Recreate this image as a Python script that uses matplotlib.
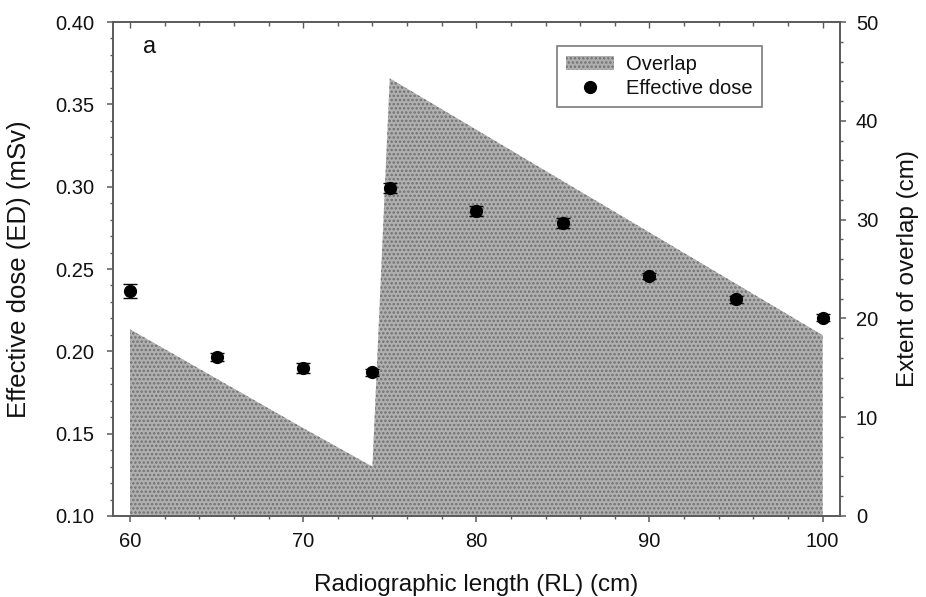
import matplotlib
matplotlib.use("Agg")
import matplotlib.pyplot as plt
from matplotlib.ticker import MultipleLocator, FormatStrFormatter
from matplotlib.patches import Patch
from matplotlib.lines import Line2D

plt.rcParams['font.family'] = ['Liberation Sans', 'DejaVu Sans']
plt.rcParams['hatch.linewidth'] = 1.2

rl = [60, 65, 70, 74, 75, 80, 85, 90, 95, 100]
ed = [0.2366, 0.1966, 0.1897, 0.1873, 0.2994, 0.2852, 0.2781, 0.2457, 0.2316, 0.2204]
ed_err = [0.004, 0.0025, 0.003, 0.002, 0.003, 0.003, 0.003, 0.002, 0.002, 0.002]
overlap = [18.9, 13.9, 8.9, 5.0, 44.3, 39.1, 33.9, 28.7, 23.5, 18.3]

fig = plt.figure(figsize=(9.26, 5.97), dpi=100)
ax = fig.add_axes([0.1217, 0.1357, 0.9071 - 0.1217, 0.9631 - 0.1357])
ax2 = ax.twinx()

spine_col = '#5a5a5a'
txt_col = '#111111'
fill_col = '#b0b0b0'
dot_col = '#707070'

# overlap fill on right axis
ax2.fill_between(rl, 0, overlap, facecolor=fill_col, edgecolor=dot_col,
                 hatch='....', linewidth=0, zorder=1)
ax2.set_ylim(0, 50)
ax2.yaxis.set_major_locator(MultipleLocator(10))
ax2.yaxis.set_minor_locator(MultipleLocator(2))

# effective dose points on left axis (drawn above fill)
ax.set_zorder(ax2.get_zorder() + 1)
ax.patch.set_visible(False)
ax.errorbar(rl, ed, yerr=ed_err, fmt='o', color='black', markersize=8.5,
            ecolor='black', elinewidth=1, capsize=5, capthick=1, zorder=3)
ax.set_ylim(0.10, 0.40)
ax.set_xlim(59, 101)
ax.xaxis.set_major_locator(MultipleLocator(10))
ax.xaxis.set_minor_locator(MultipleLocator(2))
ax.yaxis.set_major_locator(MultipleLocator(0.05))
ax.yaxis.set_minor_locator(MultipleLocator(0.01))
ax.yaxis.set_major_formatter(FormatStrFormatter('%.2f'))

for a in (ax, ax2):
    for s in a.spines.values():
        s.set_color(spine_col)
        s.set_linewidth(1.2)

ax.tick_params(axis='both', which='major', direction='out', length=4.5, width=1.1,
               color=spine_col, labelsize=14.5, labelcolor=txt_col)
ax.tick_params(axis='both', which='minor', direction='out', length=2.5, width=1.0,
               color=spine_col)
ax.tick_params(axis='y', which='major', pad=9)
ax.tick_params(axis='x', which='major', pad=7)
ax.tick_params(axis='x', which='both', top=False)
ax2.tick_params(axis='y', which='major', direction='out', length=4.5, width=1.1,
                color=spine_col, labelsize=14.5, labelcolor=txt_col, pad=7)
ax2.tick_params(axis='y', which='minor', direction='out', length=2.5, width=1.0,
                color=spine_col)

# top ticks pointing inward
secx = ax.secondary_xaxis('top')
secx.xaxis.set_major_locator(MultipleLocator(10))
secx.xaxis.set_minor_locator(MultipleLocator(2))
secx.tick_params(axis='x', which='major', direction='in', length=4.5, width=1.0,
                 color=spine_col, labeltop=False)
secx.tick_params(axis='x', which='minor', direction='in', length=3, width=1.0,
                 color=spine_col)
secx.spines['top'].set_visible(False)

ax.set_xlabel('Radiographic length (RL) (cm)', fontsize=17.5, color=txt_col)
ax.xaxis.set_label_coords(0.5, -0.117)
ax.set_ylabel('Effective dose (ED) (mSv)', fontsize=18.5, color=txt_col)
ax.yaxis.set_label_coords(-0.112, 0.5)
ax2.set_ylabel('Extent of overlap (cm)', fontsize=17.5, color=txt_col)
ax2.yaxis.set_label_coords(1.078, 0.5)

ax.text(0.041, 0.972, 'a', transform=ax.transAxes, fontsize=17, va='top', ha='left',
        color=txt_col)

handles = [Patch(facecolor=fill_col, edgecolor=dot_col, hatch='....', linewidth=0),
           Line2D([], [], marker='o', color='black', linestyle='none', markersize=8.5)]
leg = ax.legend(handles, ['Overlap', 'Effective dose'], loc='upper right',
                bbox_to_anchor=(0.893, 0.951), fontsize=14.5, frameon=True, fancybox=False,
                edgecolor=spine_col, handlelength=2.4, handleheight=0.7,
                borderpad=0.45, labelspacing=0.25, handletextpad=0.6, borderaxespad=0)
leg.get_frame().set_linewidth(1.2)
for t in leg.get_texts():
    t.set_color(txt_col)

fig.savefig('out.png', dpi=100)
